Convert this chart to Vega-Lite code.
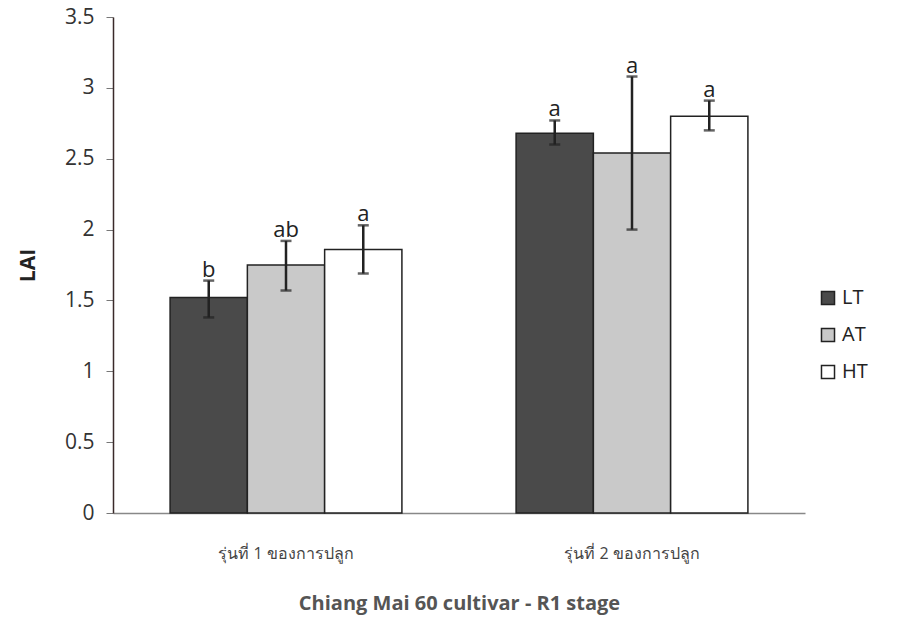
{
  "$schema": "https://vega.github.io/schema/vega-lite/v6.json",
  "autosize": {"type": "none"},
  "width": 692,
  "height": 496,
  "padding": {"left": 113, "top": 17, "right": 96, "bottom": 115},
  "background": "white",
  "config": {"view": {"stroke": null}, "font": "Open Sans"},
  "data": {"values": [
    {"season": "รุ่นที่ 1 ของการปลูก", "trt": "LT", "mean": 1.52, "lo": 1.38, "hi": 1.64, "letter": "b"},
    {"season": "รุ่นที่ 1 ของการปลูก", "trt": "AT", "mean": 1.75, "lo": 1.57, "hi": 1.92, "letter": "ab"},
    {"season": "รุ่นที่ 1 ของการปลูก", "trt": "HT", "mean": 1.86, "lo": 1.69, "hi": 2.03, "letter": "a"},
    {"season": "รุ่นที่ 2 ของการปลูก", "trt": "LT", "mean": 2.68, "lo": 2.6, "hi": 2.77, "letter": "a"},
    {"season": "รุ่นที่ 2 ของการปลูก", "trt": "AT", "mean": 2.54, "lo": 2.0, "hi": 3.08, "letter": "a"},
    {"season": "รุ่นที่ 2 ของการปลูก", "trt": "HT", "mean": 2.8, "lo": 2.7, "hi": 2.91, "letter": "a"}
  ]},
  "encoding": {
    "x": {
      "field": "season", "type": "nominal",
      "scale": {"paddingInner": 0.33, "paddingOuter": 0.165},
      "axis": {
        "title": "Chiang Mai 60 cultivar - R1 stage",
        "titleFontSize": 20, "titleFontWeight": "bold", "titleColor": "#555", "titlePadding": 32,
        "labelAngle": 0, "labelFontSize": 16, "labelColor": "#444", "labelPadding": 32,
        "ticks": false, "domainColor": "#888", "domainWidth": 1.5
      }
    },
    "xOffset": {"field": "trt", "type": "nominal", "sort": ["LT", "AT", "HT"], "scale": {"paddingInner": 0, "paddingOuter": 0}}
  },
  "layer": [
    {
      "mark": {"type": "bar", "stroke": "#222", "strokeWidth": 1.5},
      "encoding": {
        "y": {
          "field": "mean", "type": "quantitative",
          "scale": {"domain": [0, 3.5]},
          "axis": {
            "title": "LAI", "titleFontSize": 21, "titleFontWeight": "bold", "titleColor": "#222", "titlePadding": 26,
            "values": [0, 0.5, 1, 1.5, 2, 2.5, 3, 3.5], "format": "~g",
            "labelFontSize": 21, "labelColor": "#333", "labelPadding": 12,
            "grid": false, "tickColor": "#777", "tickSize": 7,
            "domainColor": "#3a2a2a", "domainWidth": 1.5
          }
        },
        "fill": {
          "field": "trt", "type": "nominal", "sort": ["LT", "AT", "HT"],
          "scale": {"domain": ["LT", "AT", "HT"], "range": ["#4a4a4a", "#c9c9c9", "#ffffff"]},
          "legend": {
            "title": null, "orient": "none", "legendX": 705, "legendY": 271,
            "symbolType": "square", "symbolSize": 170, "symbolStrokeColor": "#222", "symbolStrokeWidth": 1.5,
            "labelFontSize": 20, "labelColor": "#222", "rowPadding": 17, "labelOffset": 4
          }
        }
      }
    },
    {
      "mark": {"type": "rule", "color": "#222", "strokeWidth": 2.5},
      "encoding": {
        "y": {"field": "lo", "type": "quantitative"},
        "y2": {"field": "hi"}
      }
    },
    {
      "mark": {"type": "tick", "color": "#222", "size": 11, "thickness": 2.5, "orient": "horizontal"},
      "encoding": {"y": {"field": "lo", "type": "quantitative"}}
    },
    {
      "mark": {"type": "tick", "color": "#222", "size": 11, "thickness": 2.5, "orient": "horizontal"},
      "encoding": {"y": {"field": "hi", "type": "quantitative"}}
    },
    {
      "mark": {"type": "text", "fontSize": 22, "color": "#222", "baseline": "alphabetic", "dy": -4},
      "encoding": {
        "y": {"field": "hi", "type": "quantitative"},
        "text": {"field": "letter"}
      }
    }
  ]
}
